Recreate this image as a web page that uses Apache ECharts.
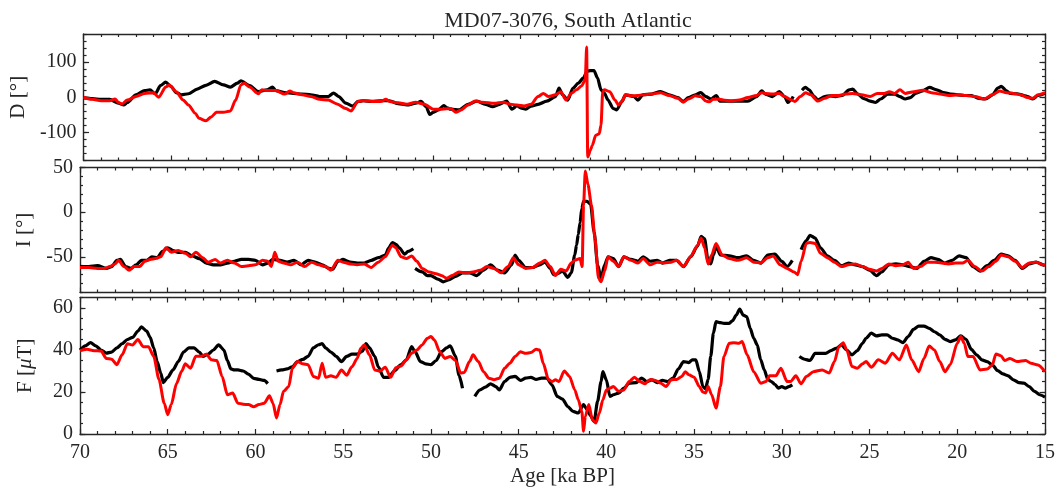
<!DOCTYPE html>
<html>
<head>
<meta charset="utf-8">
<title>MD07-3076, South Atlantic</title>
<script src="https://cdn.jsdelivr.net/npm/echarts@6/dist/echarts.min.js"></script>
<style>
  html, body { margin: 0; padding: 0; background: #fff; }
  #chart { width: 1061px; height: 490px; }
</style>
</head>
<body>
<div id="chart"></div>
<script>
// ---- Declination (D), core data (black) ----
const dDataAge = [70,69.5,69,68.5,68,67.7,67.5,67,66.5,66.2,65.9,65.6,65.3,65,64.7,64.4,64,63.5,63,62.5,62,61.6,61.2,61,60.5,60,59.5,59.2,59,58.5,58,57.5,57,56.5,56,55.7,55.4,55,54.6,54.3,54,53.5,53,52.5,52,51.5,51,50.7,50.4,50.2,50,49.7,49.4,49.2,49,48.5,48,47.5,47,46.6,46.2,45.8,45.5,45.2,45,44.7,44.4,44,43.5,43,42.8,42.6,42.3,42,41.7,41.4,41.2,41,40.8,40.6,40.4,40.2,40,39.7,39.5,39.2,39,38.5,38.3,38,37.5,37,36.5,36,35.7,35.4,35,34.7,34.4,34.1,33.8,33.6,33,32.5,32,31.5,31.2,31,30.6,30.2,29.9,29.7,29.5,29.4,29.2,28.9,28.7,28.5,28.2,28,27.6,27.3,27,26.6,26.2,26,25.7,25.4,25,24.7,24.4,24,23.6,23.3,23,22.7,22.4,22,21.6,21.2,20.8,20.4,20,19.6,19.2,18.8,18.4,18,17.7,17.5,17.2,17,16.6,16.2,16,15.7,15.4,15];
const dData    = [-2,-4,-6,-6,-17,-22,-15,7,19,21,10,33,43,31,13,7,10,23,34,45,35,29,40,47,33,16,21,29,19,13,11,9,7,2,2,12,2,-17,-25,-12,-10,-12,-10,-10,-18,-22,-17,-12,-27,-49,-43,-36,-24,-30,-34,-36,-20,-11,-20,-27,-20,-11,-34,-24,-30,-34,-25,-20,-11,2,26,7,-8,26,40,55,74,76,76,55,21,11,-8,-32,-36,-12,7,2,-8,7,9,16,7,-1,-12,-1,7,13,2,-5,5,-11,-11,-11,-11,2,18,9,2,16,2,-15,-5,2,null,20,28,21,2,-8,2,4,2,5,21,23,9,-3,-11,-15,-5,9,9,2,-5,-1,11,18,28,21,13,9,7,5,5,-3,-5,7,26,31,18,11,10,5,2,-5,5,11];

// ---- Declination (D), model (red) ----
const dModelAge = [70,69.5,69,68.5,68.2,68,67.8,67.5,67,66.5,66,65.7,65.3,65.1,64.7,64.3,64,63.6,63.4,63,62.7,62.4,62,61.6,61.3,61,60.8,60.5,60,59.8,59.5,59,58.5,58.2,58,57.5,57,56.5,56,55.5,55,54.7,54.3,54,53.5,53,52.7,52.5,52,51.5,51,50.5,50,49.5,49,48.7,48.4,48,47.6,47.2,46.5,46,45.6,45.2,44.8,44.4,44,43.7,43.4,43,42.7,42.4,42.1,41.8,41.5,41.3,41.22,41.16,41,40.9,40.7,40.5,40.4,40.3,40.2,39.9,39.6,39.4,39.2,39,38.7,38.3,38,37.5,37,36.5,36,35.7,35.4,35,34.7,34.4,34.2,34,33.7,33.4,33,32.5,32,31.5,31.2,31,30.6,30.2,29.9,29.5,29.3,29,28.7,28.4,28,27.6,27.2,26.8,26.4,26,25.5,25,24.6,24.2,23.9,23.6,23.3,23,22.5,22,21.5,21,20.5,20,19.5,19,18.5,18,17.6,17.2,16.8,16.4,16,15.7,15.4,15];
const dModel    = [0,-6,-10,-10,-5,-15,-19,-8,2,11,13,0,29,35,16,-8,-22,-46,-60,-67,-56,-43,-43,-39,-8,35,40,29,10,21,19,19,9,18,13,7,2,-6,-8,-19,-32,-39,-12,-10,-12,-12,-6,-12,-16,-20,-14,-20,-34,-34,-32,-43,-36,-22,-11,-14,-17,-14,-20,-22,-25,-20,2,11,2,7,16,-8,11,21,33,50,143,-170,-150,-137,-108,-104,-80,16,21,16,-8,-22,-12,7,4,5,7,9,13,5,-3,-14,-5,4,2,-11,-13,-6,-5,-8,-11,-8,-1,5,13,11,9,11,2,-8,-12,2,13,7,-11,-3,5,5,9,11,7,2,11,11,16,11,21,11,16,20,13,9,5,7,5,2,-5,7,18,13,11,7,-1,-3,7,13];

// ---- Inclination (I), core data (black) ----
const iDataAge = [70,69.5,69,68.5,68.2,67.9,67.7,67.4,67.1,66.8,66.5,66.2,65.9,65.6,65.3,65,64.7,64.4,64,63.6,63.2,62.8,62.4,62,61.6,61.2,60.8,60.4,60,59.6,59.3,59,58.6,58.2,57.8,57.4,57,56.6,56.2,55.8,55.6,55.3,55,54.6,54.2,53.8,53.4,53,52.6,52.4,52.2,52,51.8,51.5,51.3,51,50.95,50.9,50.5,50.2,50,49.6,49.3,49,48.6,48.2,47.8,47.4,47,46.6,46.2,45.8,45.4,45.2,45,44.6,44.2,43.8,43.5,43.2,43,42.8,42.5,42.2,42,41.8,41.7,41.6,41.5,41.4,41.3,41.1,40.9,40.7,40.5,40.3,40.1,39.9,39.6,39.3,39,38.6,38.2,37.9,37.5,37.1,36.8,36.4,36,35.6,35.2,34.8,34.6,34.4,34.2,34.05,33.9,33.75,33.5,33,32.5,32,31.6,31.2,30.8,30.4,30,29.7,29.4,29.2,28.9,28.6,28.4,28.1,27.8,27.4,27,26.6,26.2,25.8,25.4,25,24.6,24.3,23.9,23.5,23.1,22.7,22.3,21.9,21.5,21.1,20.7,20.3,19.9,19.5,19.1,18.7,18.3,17.9,17.5,17.1,16.7,16.3,15.9,15.5,15.1,15];
const iData    = [-61,-61,-60,-63,-61,-54,-53,-61,-63,-59,-54,-54,-50,-51,-44,-40,-43,-45,-45,-49,-52,-57,-59,-59,-57,-55,-53,-53,-54,-59,-57,-53,-54,-56,-54,-59,-54,-56,-59,-63,-64,-55,-53,-56,-57,-57,-54,-51,-48,-40,-34,-36,-40,-47,-44,-41,null,-63,-67,-71,-71,-75,-78,-76,-72,-68,-68,-71,-65,-59,-65,-68,-59,-48,-54,-62,-62,-59,-56,-63,-70,-69,-66,-73,-68,-48,-37,-25,-12,4,12,12,9,-22,-59,-74,-59,-50,-52,-61,-50,-53,-55,-50,-55,-54,-57,-54,-54,-61,-50,-38,-27,-30,-55,-58,-48,-38,-48,-49,-51,-49,-54,-57,-48,-47,-55,-61,-54,null,-42,-32,-26,-29,-40,-49,-54,-60,-57,-59,-61,-65,-71,-67,-59,-58,-59,-61,-63,-55,-51,-53,-57,-54,-49,-51,-61,-66,-60,-54,-47,-49,-54,-63,-58,-56,-59,-60];

// ---- Inclination (I), model (red) ----
const iModelAge = [70,69.5,69,68.6,68.3,68,67.8,67.5,67.2,66.9,66.6,66.3,66,65.7,65.4,65.1,64.8,64.4,64,63.7,63.4,63,62.7,62.3,62,61.6,61.2,60.8,60.4,60,59.6,59.3,59.1,58.9,58.7,58.4,58,57.6,57.2,56.8,56.4,56,55.7,55.3,55,54.6,54.2,53.8,53.4,53,52.6,52.2,52,51.7,51.4,51.1,50.8,50.5,50.1,49.7,49.4,49.1,48.8,48.4,48,47.6,47.2,46.8,46.4,46,45.6,45.3,45,44.6,44.2,43.8,43.5,43.2,42.9,42.6,42.3,42,41.8,41.5,41.38,41.3,41.2,41.05,40.85,40.65,40.45,40.3,40.1,39.9,39.6,39.3,39,38.6,38.2,37.9,37.5,37.1,36.7,36.3,36,35.6,35.2,34.8,34.6,34.4,34.2,34,33.75,33.4,33,32.5,32,31.6,31.2,30.8,30.5,30.1,29.7,29.3,29.1,28.9,28.6,28.4,28.1,27.8,27.4,27,26.6,26.2,25.8,25.4,25,24.6,24.3,23.9,23.5,23.1,22.8,22.5,22.1,21.7,21.3,20.9,20.5,20.1,19.7,19.4,19,18.6,18.2,17.8,17.5,17.1,16.7,16.3,15.9,15.5,15.1,15];
const iModel    = [-62,-62,-63,-63,-61,-58,-54,-61,-65,-61,-61,-55,-53,-52,-50,-40,-45,-43,-46,-50,-45,-51,-56,-53,-57,-54,-57,-61,-60,-59,-54,-55,-61,-45,-55,-57,-59,-56,-61,-56,-59,-61,-65,-54,-56,-58,-59,-58,-62,-56,-50,-37,-40,-50,-52,-49,-55,-63,-67,-69,-71,-74,-71,-67,-68,-67,-65,-61,-63,-68,-61,-51,-59,-63,-62,-57,-54,-61,-71,-64,-66,-57,-54,-52,-61,8,46,31,8,-29,-74,-78,-66,-50,-55,-61,-50,-54,-57,-52,-59,-56,-57,-56,-54,-61,-50,-37,-29,-40,-58,-48,-35,-48,-52,-54,-51,-56,-57,-51,-49,-59,-63,-67,-70,-55,-35,-34,-35,-46,-51,-56,-61,-59,-58,-61,-64,-66,-63,-58,-60,-59,-56,-63,-61,-56,-56,-57,-58,-57,-57,-54,-61,-66,-61,-55,-48,-50,-55,-62,-57,-56,-59,-60];

// ---- Intensity (F), core data (black) ----
const fDataAge = [70,69.7,69.4,69.1,68.8,68.5,68.2,67.9,67.6,67.3,67,66.7,66.5,66.2,66,65.8,65.6,65.4,65.25,65,64.7,64.4,64.1,63.8,63.5,63.2,63,62.7,62.4,62.1,61.8,61.6,61.4,61.2,61,60.7,60.4,60.1,59.8,59.5,59.3,59,58.8,58.5,58.2,57.9,57.6,57.3,57,56.7,56.4,56.2,56,55.7,55.4,55.1,54.8,54.5,54.2,53.9,53.7,53.5,53.2,53,52.7,52.4,52.1,51.7,51.4,51.1,50.9,50.6,50.3,50,49.7,49.4,49.1,48.9,48.6,48.4,48.2,47.9,47.5,47.2,46.9,46.6,46.3,46.1,45.8,45.5,45.2,44.9,44.6,44.3,44,43.7,43.4,43.1,42.8,42.5,42.2,41.9,41.6,41.3,41.1,40.9,40.7,40.5,40.3,40.2,40,39.8,39.6,39.3,39,38.7,38.3,38,37.7,37.4,37.1,36.8,36.5,36.2,35.9,35.6,35.3,35.1,34.9,34.7,34.5,34.35,34.2,34.05,33.9,33.75,33.5,33.3,33,32.8,32.6,32.4,32.2,32,31.8,31.6,31.4,31.2,31,30.8,30.6,30.4,30.2,30,29.8,29.6,29.4,29.2,29,28.7,28.4,28.1,27.8,27.5,27.2,26.9,26.6,26.3,26,25.7,25.4,25.2,24.9,24.6,24.3,24,23.7,23.4,23.1,22.8,22.5,22.2,21.9,21.6,21.3,21,20.7,20.4,20.1,19.8,19.5,19.2,18.9,18.6,18.3,18,17.7,17.4,17.1,16.8,16.5,16.2,15.9,15.6,15.3,15];
const fData    = [40,42,43.5,42,40,38.5,39,41,43,45,46,49,51,49,46,41,34.5,29,24.5,27,30.5,34.5,39,41,41,39,37,38,40,42.5,40,35,31,30.5,30.5,30,28.5,26.5,26,25.5,24,null,30,30.5,31,32,34.5,35.5,37,41,42.5,43,41,39,37,34.5,37,38,38,39.5,43,41,37,32,27,27,30,33,35.3,41.6,39.2,34.5,33.4,33,35,39.2,41,42,37,28,21.8,null,17.9,21,22.3,23.9,22.6,21,25,27,27.4,25.5,26.6,27,26,26.6,26.6,23.4,17.9,16.6,13.1,10.8,10,14,11.6,8.7,6,15.5,25,29.7,25.8,17.9,18.7,19.5,21.8,24.2,24.5,26.6,25,25.8,24.5,25.5,25,26.6,30.9,34.5,34,35.3,35.3,29.7,22.6,21.5,26,37,48,53.5,53,52.7,52.7,54,56.6,59.5,56.6,55.9,50.3,45.6,42.4,35.3,30.5,26,25,23.7,21.8,22.6,21.8,22.6,23.4,null,36.9,35.6,35,38.4,38.4,38.4,39.7,40.8,42.4,40,37.7,39.7,43.2,45.6,48,46.7,47.2,47.2,45.6,44.8,43.5,46.4,49.8,51.4,51.4,50.3,48.7,47.2,45.1,44,44.8,46.7,45.1,40.3,37.7,35.3,34.5,32.9,30.2,28.6,27.7,25.8,24.5,24.2,22.6,20.3,18.7,17.6];

// ---- Intensity (F), model (red) ----
const fModelAge = [70,69.6,69.2,68.8,68.5,68.2,67.9,67.6,67.3,67,66.7,66.4,66.1,65.8,65.5,65.2,65,64.8,64.5,64.2,64,63.7,63.4,63.1,62.8,62.5,62.2,61.9,61.6,61.3,61,60.7,60.4,60.1,59.8,59.5,59.2,59,58.8,58.6,58.4,58.1,57.9,57.6,57.3,57,56.7,56.4,56.2,56,55.7,55.4,55.1,54.8,54.5,54.2,54,53.8,53.5,53.2,52.9,52.6,52.3,52,51.7,51.4,51.1,50.8,50.5,50.2,50,49.8,49.5,49.2,48.9,48.6,48.3,48.1,47.8,47.6,47.3,47,46.7,46.4,46.1,45.8,45.5,45.2,44.9,44.6,44.3,44,43.8,43.6,43.3,43.1,42.9,42.7,42.4,42.1,41.8,41.6,41.4,41.3,41.2,41,40.8,40.6,40.4,40.2,40,39.8,39.6,39.3,39,38.7,38.4,38.1,37.8,37.5,37.2,36.9,36.6,36.3,36,35.7,35.5,35.3,35,34.7,34.5,34.35,34.2,34,33.75,33.5,33.3,33,32.74,32.45,32.26,31.98,31.6,31.2,30.9,30.7,30.34,30.05,29.7,29.5,29.2,28.9,28.6,28.2,27.7,27.3,27,26.75,26.5,26.3,26,25.7,25.4,25.2,24.9,24.5,24.1,23.7,23.3,22.9,22.6,22.2,21.9,21.6,21.3,21,20.7,20.4,20,19.8,19.6,19.4,19.1,18.7,18.3,18,17.8,17.5,17.3,17,16.6,16.1,15.8,15.4,15];
const fModel    = [39.7,40.3,39.7,39.5,36,35.6,33,37.7,43,42.4,45,41.6,41.6,37,26,14.7,9.2,14,24,30,33.4,31.3,37,37,38,35.3,35,27.4,18.7,19.5,14.7,14.2,14,13,14,14.7,18.2,14.7,7.6,14,20.3,22.6,31.3,34.5,33.4,33,27.4,26.6,33.7,27,27.7,27,30.5,28,32,36,40.8,42.4,37.7,30.5,30,31.8,27,31.5,32.4,35.3,38.4,40,42.4,45.6,46.4,44.8,39.2,36,36.9,35,29,29.3,34.5,37.7,34.5,29.7,26.6,25.8,26.6,31.3,33.7,36.9,39.2,38.4,38.8,40.3,40,33.7,26,25,25.8,25,30,27.4,21,16.3,10.8,1.3,8.4,14,6.8,5.2,10,16.3,21,21.8,22.6,20.3,21,25,27,25,23.9,26,25.5,24.2,22.6,25.8,26,27.4,29.7,28.2,27,22.6,20,19.5,22.6,18.7,12.3,22.6,36.9,43.2,43.5,43.2,44,37.7,29.7,24.2,25,27.7,27.7,31.3,25,25,27.7,23.9,27.4,29.7,30.5,29,34.5,41.6,43.5,40,32.1,31.3,33.4,34.5,31.8,35.3,33.7,38.4,35.3,42.4,35.3,29.7,36,41.9,40,34.5,29.7,33,43.2,46.4,43.2,36.9,36.9,30.5,30.9,32.9,38.1,37.2,35,36,34.5,35,33.7,32.9,29.7];

// ---- Axis ranges and tick values ----
const ageRange = [15, 70];
const dRange = [-180, 180], dMinorStep = 20, dTicks = [-100, 0, 100];
const iRange = [-90, 50],   iMinorStep = 10, iTicks = [-50, 0, 50];
const fRange = [0, 65],     fMinorStep = 5,  fTicks = [0, 20, 40, 60];

const FONT = '"Liberation Serif", "DejaVu Serif", serif';
const INK = '#262626';

function pairs(xs, ys) { return xs.map((x, k) => [x, ys[k]]); }
function steps(min, max, step) {
  const out = [];
  for (let v = min; v <= max + 1e-9; v += step) out.push(+v.toFixed(6));
  return out;
}

const grids = [
  { left: 80, right: 16, top: 34,    height: 126.5 },
  { left: 80, right: 16, top: 167.5, height: 125 },
  { left: 80, right: 16, top: 297.5, height: 136.5 }
];

const xAxes = [];
grids.forEach((g, gi) => {
  ['bottom', 'top'].forEach(pos => {
    const isMain = pos === 'bottom';
    xAxes.push({
      type: 'value', gridIndex: gi, position: pos,
      min: ageRange[0], max: ageRange[1], interval: 5, inverse: true,
      axisLine: { show: true, onZero: false, lineStyle: { color: INK, width: 1.4 } },
      axisTick: { show: true, inside: true, length: 5, lineStyle: { color: INK, width: 1.2 } },
      minorTick: { show: true, splitNumber: 5, length: 3, lineStyle: { color: INK, width: 1.2 } },
      axisLabel: {
        show: isMain && gi === 2, margin: 9,
        color: INK, fontFamily: FONT, fontSize: 20
      },
      splitLine: { show: false },
      name: (isMain && gi === 2) ? 'Age [ka BP]' : '',
      nameLocation: 'middle', nameGap: 32,
      nameTextStyle: { color: INK, fontFamily: FONT, fontSize: 21 }
    });
  });
});

const panels = [
  { range: dRange, step: dMinorStep, ticks: dTicks, name: 'D [°]' },
  { range: iRange, step: iMinorStep, ticks: iTicks, name: 'I [°]' },
  { range: fRange, step: fMinorStep, ticks: fTicks, name: 'F [{mu|μ}T]' }
];

const yAxes = [];
panels.forEach((p, gi) => {
  const minor = steps(p.range[0], p.range[1], p.step);
  ['left', 'right'].forEach(pos => {
    const isLeft = pos === 'left';
    // short ticks, frame line, tick labels
    yAxes.push({
      type: 'value', gridIndex: gi, position: pos,
      min: p.range[0], max: p.range[1],
      axisLine: { show: true, onZero: false, lineStyle: { color: INK, width: 1.4 } },
      axisTick: { show: true, inside: true, length: 3, customValues: minor,
                  lineStyle: { color: INK, width: 1.2 } },
      axisLabel: { show: isLeft, customValues: p.ticks, margin: 7,
                   color: INK, fontFamily: FONT, fontSize: 20 },
      splitLine: { show: false },
      name: isLeft ? p.name : '',
      nameLocation: 'middle', nameGap: 44,
      nameTextStyle: { color: INK, fontFamily: FONT, fontSize: 21,
                       rich: { mu: { fontStyle: 'italic', fontFamily: FONT, fontSize: 21, color: INK } } }
    });
    // long ticks at labelled values
    yAxes.push({
      type: 'value', gridIndex: gi, position: pos,
      min: p.range[0], max: p.range[1],
      axisLine: { show: false, onZero: false },
      axisTick: { show: true, inside: true, length: 5.5, customValues: p.ticks,
                  lineStyle: { color: INK, width: 1.2 } },
      axisLabel: { show: false },
      splitLine: { show: false }
    });
  });
});

function dataSeries(gi, xs, ys) {
  return {
    type: 'line', xAxisIndex: gi * 2, yAxisIndex: gi * 4,
    data: pairs(xs, ys), showSymbol: false, connectNulls: false,
    smooth: 0.25, smoothMonotone: 'x',
    lineStyle: { color: '#000', width: 3.2 }, z: 2, silent: true
  };
}
function modelSeries(gi, xs, ys) {
  return {
    type: 'line', xAxisIndex: gi * 2, yAxisIndex: gi * 4,
    data: pairs(xs, ys), showSymbol: false,
    smooth: 0.25, smoothMonotone: 'x',
    lineStyle: { color: '#ff0000', width: 3 }, z: 3, silent: true
  };
}

const chart = echarts.init(document.getElementById('chart'), null, { renderer: 'canvas' });
chart.setOption({
  backgroundColor: '#fff',
  animation: false,
  title: {
    text: 'MD07-3076, South Atlantic',
    left: 563, top: 5, textAlign: 'center',
    textStyle: { color: INK, fontFamily: FONT, fontSize: 22, fontWeight: 'normal' }
  },
  grid: grids,
  xAxis: xAxes,
  yAxis: yAxes,
  series: [
    dataSeries(0, dDataAge, dData),
    modelSeries(0, dModelAge, dModel),
    dataSeries(1, iDataAge, iData),
    modelSeries(1, iModelAge, iModel),
    dataSeries(2, fDataAge, fData),
    modelSeries(2, fModelAge, fModel)
  ]
});
</script>
</body>
</html>
